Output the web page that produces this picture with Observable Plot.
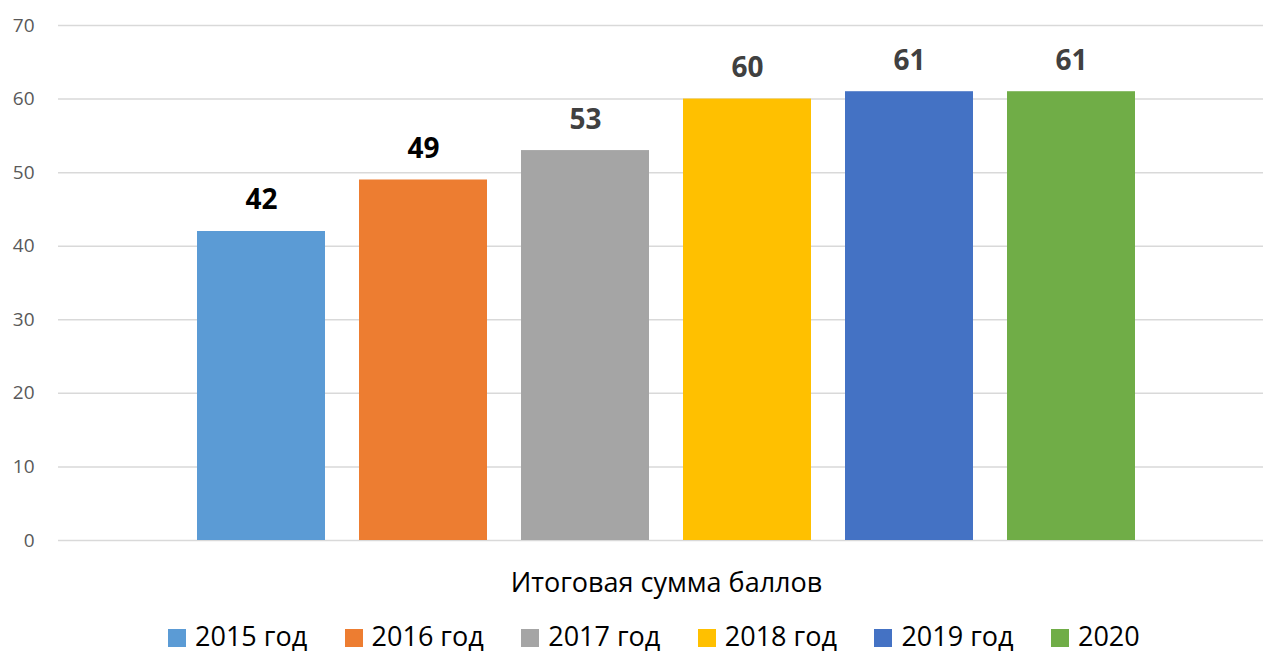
<!DOCTYPE html>
<html>
<head>
<meta charset="utf-8">
<script src="https://cdn.jsdelivr.net/npm/d3@7"></script>
<script src="https://cdn.jsdelivr.net/npm/@observablehq/plot@0.6"></script>
<style>
  body { margin: 0; background: #fff; font-family: "Open Sans", sans-serif; }
  #wrap { position: relative; width: 1263px; height: 656px; overflow: hidden; }
  #cat { position: absolute; left: 0; width: 1333px; top: 568px; text-align: center; font-size: 27px; line-height: 27px; color: #000; }
  #legend { position: absolute; left: 168px; top: 622px; display: flex; }
  .item { width: 176.6px; display: flex; align-items: center; font-size: 27px; line-height: 27px; color: #000; white-space: nowrap; }
  .sw { width: 18px; height: 18px; margin-right: 9px; flex: none; position: relative; top: 2px; }
</style>
</head>
<body>
<div id="wrap">
  <div id="chart"></div>
  <div id="cat"></div>
  <div id="legend"></div>
</div>
<script>
const category = "Итоговая сумма баллов";
const series = ["2015 год", "2016 год", "2017 год", "2018 год", "2019 год", "2020"];
const values = [42, 49, 53, 60, 61, 61];
const yTicks = [0, 10, 20, 30, 40, 50, 60, 70];
const colors = ["#5b9bd5", "#ed7d31", "#a5a5a5", "#ffc000", "#4472c4", "#70ad47"];
const labelColors = ["#000000", "#000000", "#404040", "#404040", "#404040", "#404040"];

const data = series.map((s, i) => ({series: s, value: values[i], labelColor: labelColors[i]}));

const chart = Plot.plot({
  width: 1263,
  height: 560,
  marginTop: 25,
  marginBottom: 20,
  marginLeft: 58,
  marginRight: 0,
  style: {fontFamily: "'Open Sans', sans-serif", background: "#fff"},
  x: {type: "band", domain: series, range: [180, 1152], paddingInner: 0.21, paddingOuter: 0.105, axis: null},
  y: {domain: [0, 70], ticks: yTicks, label: null},
  color: {domain: series, range: colors},
  marks: [
    Plot.ruleY(yTicks, {stroke: "#d9d9d9", strokeWidth: 1.5}),
    Plot.axisY({ticks: yTicks, tickSize: 0, tickPadding: 24, fontSize: 19, fill: "#595959", label: null}),
    Plot.barY(data, {x: "series", y: "value", fill: "series"}),
    Plot.text(data, {x: "series", y: "value", text: d => String(d.value), fill: d => d.labelColor,
      lineAnchor: "middle", dy: -31, fontSize: 28, fontWeight: "bold"})
  ]
});
document.getElementById("chart").appendChild(chart);
chart.querySelectorAll("g[aria-label='y-axis tick label'] text").forEach(t => t.setAttribute("fill", "#595959"));

document.getElementById("cat").textContent = category;
const legend = document.getElementById("legend");
series.forEach((s, i) => {
  const it = document.createElement("div");
  it.className = "item";
  const sw = document.createElement("span");
  sw.className = "sw";
  sw.style.background = colors[i];
  const tx = document.createElement("span");
  tx.textContent = s;
  it.appendChild(sw);
  it.appendChild(tx);
  legend.appendChild(it);
});
</script>
</body>
</html>
